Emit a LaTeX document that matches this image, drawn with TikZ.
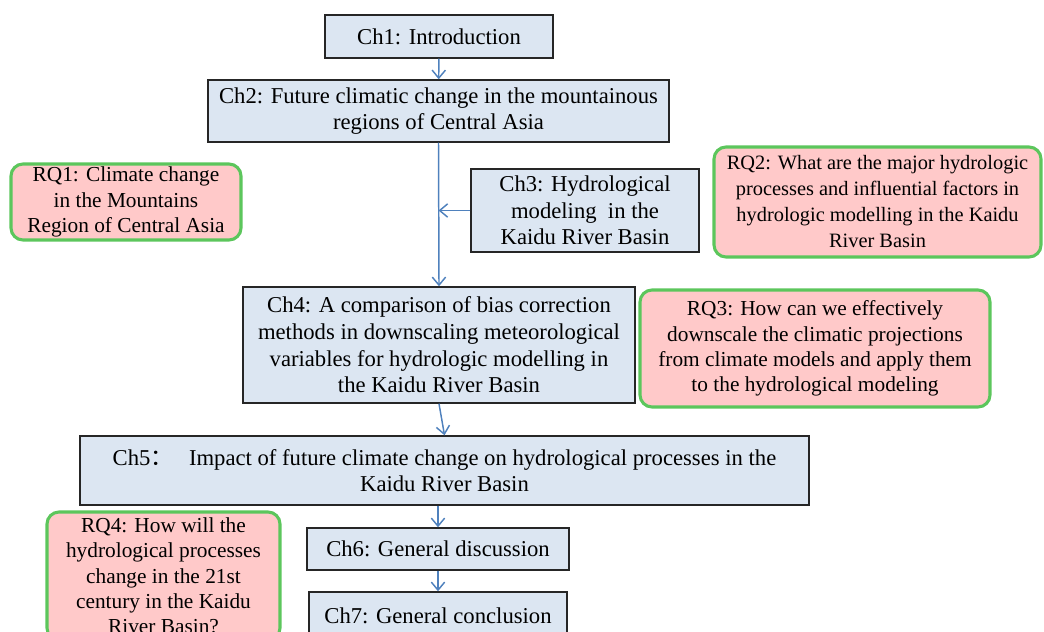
\documentclass[tikz,border=0pt]{standalone}
\usepackage{fontspec}
\setmainfont{Liberation Serif}
\newfontfamily\cjk{Noto Sans CJK SC}
\usepackage{tikz}
\usetikzlibrary{arrows.meta}
\definecolor{chfill}{HTML}{DCE6F2}
\definecolor{rqfill}{HTML}{FFC9C9}
\definecolor{rqline}{HTML}{5CC65C}
\definecolor{arrblue}{HTML}{4F81BD}
\tikzset{
  sz/.style 2 args={minimum width=#1*0.75pt,minimum height=#2*0.75pt},
  chbox/.style={draw=black!85,line width=1.1pt,fill=chfill,align=center,inner sep=0pt},
  rqbox/.style={draw=rqline,line width=2.3pt,fill=rqfill,rounded corners=9pt,align=center,inner sep=0pt,
    font=\fontsize{16}{19}\selectfont},
  arr/.style={-{Straight Barb[length=6pt,width=10pt]},arrblue,line width=1.1pt}
}
\begin{document}
\begin{tikzpicture}[x=0.75pt,y=-0.75pt,font=\fontsize{17}{20}\selectfont]
  \useasboundingbox (0,0) rectangle (1044,631);
  \clip (0,0) rectangle (1044,631);
  \node[chbox,sz={228}{43}] (ch1) at (439,36.5) {Ch1: Introduction};
  \node[chbox,sz={461}{62}] (ch2) at (438.5,111)
    {Ch2: Future climatic change in the mountainous\\regions of Central Asia};
  \node[chbox,sz={228}{83}] (ch3) at (585,210.5)
    {Ch3: Hydrological\\modeling\ \ in the\\Kaidu River Basin};
  \node[rqbox,sz={230}{76}] (rq1) at (126,202)
    {RQ1: Climate change\\in the Mountains\\Region of Central Asia};
  \node[rqbox,sz={327}{110},font=\fontsize{15.3}{19.5}\selectfont] (rq2) at (877.5,202)
    {RQ2: What are the major hydrologic\\processes and influential factors in\\hydrologic modelling in the Kaidu\\River Basin};
  \node[chbox,sz={392}{116}] (ch4) at (439,345)
    {Ch4: A comparison of bias correction\\methods in downscaling meteorological\\variables for hydrologic modelling in\\the Kaidu River Basin};
  \node[rqbox,sz={350}{117}] (rq3) at (815,348.5)
    {RQ3: How can we effectively\\downscale the climatic projections\\from climate models and apply them\\to the hydrological modeling};
  \node[chbox,sz={729}{69}] (ch5) at (444.5,470.5)
    {Ch5{\cjk ：}\hspace{0.7em}Impact of future climate\ change on hydrological processes in the\\Kaidu River Basin};
  \node[rqbox,sz={233}{128}] (rq4) at (163.5,576)
    {RQ4: How will the\\hydrological processes\\change in the 21st\\century in the Kaidu\\River Basin?};
  \node[chbox,sz={262}{42}] (ch6) at (438,549) {Ch6: General discussion};
  \node[chbox,sz={258}{48}] (ch7) at (438,616) {Ch7: General conclusion};

  \draw[arr] (ch1) -- (ch2);
  \draw[arr] (ch2.south) -- (ch4.north);
  \draw[arr] (ch3.west) -- (ch3.west -| ch2.south);
  \draw[arr] (ch4.south) -- (ch5.north);
  \draw[arr] (ch5.south -| ch6.north) -- (ch6.north);
  \draw[arr] (ch6) -- (ch7);
\end{tikzpicture}
\end{document}
